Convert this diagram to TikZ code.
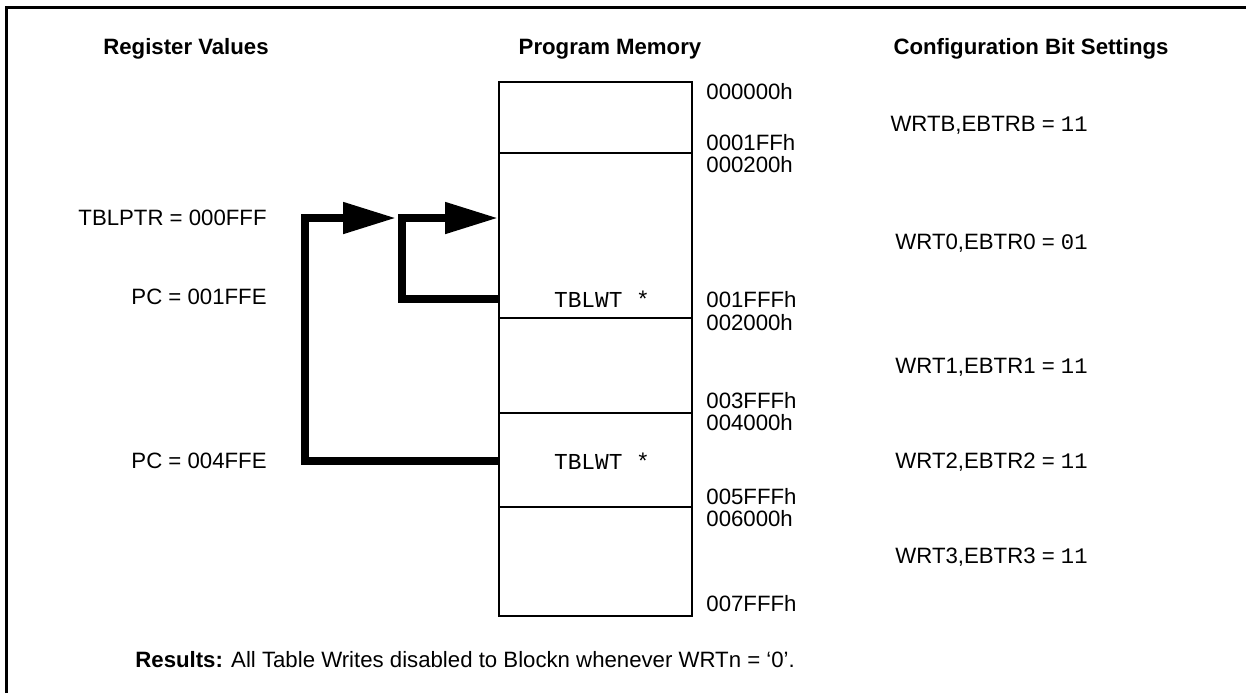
\documentclass[tikz,border=0pt]{standalone}
\usepackage{fontspec}
\setmainfont{Liberation Sans}
\newfontfamily\courfont{Liberation Mono}
\usetikzlibrary{arrows.meta}
\begin{document}
\begin{tikzpicture}[x=0.5pt,y=-0.5pt,
  every node/.style={inner sep=0pt, font=\fontsize{11.1}{13.3}\selectfont},
  hdr/.style={font=\fontsize{11.1}{13.3}\selectfont\bfseries},
  mono/.style={font=\fontsize{11.4}{13.6}\selectfont\courfont},
  addr/.style={anchor=west},
  regval/.style={anchor=east},
  cfg/.style={anchor=east},
  blk/.style={draw, line width=1pt, minimum width=96.5pt, inner sep=0pt},
  fat/.style={line width=4pt, line join=miter, -{Triangle[length=26.5pt,width=15pt]}},
  frameline/.style={line width=1.5pt}]
\useasboundingbox (0,0) rectangle (1246,693);
% frame
\draw[frameline] (6,693) -- (6,7) -- (1246,7);
% headers
\node[hdr] (h1) at (186,49) {Register Values};
\node[hdr] (h2) at (610,49) {Program Memory};
\node[hdr] (h3) at (1031,49) {Configuration Bit Settings};
% memory blocks
\node[blk, minimum height=35.5pt] (b0) at (595.5,117.5) {};
\node[blk, minimum height=82.5pt] (b1) at (595.5,235.5) {};
\node[blk, minimum height=47.5pt] (b2) at (595.5,365.5) {};
\node[blk, minimum height=47pt] (b3) at (595.5,460) {};
\node[blk, minimum height=54.5pt] (b4) at (595.5,561.5) {};
\node[mono] (tw1) at (602,299) {TBLWT *};
\node[mono] (tw2) at (602,461) {TBLWT *};
% addresses
\node[addr] (a0) at (706,92) {000000h};
\node[addr] (a1) at (706,143) {0001FFh};
\node[addr] (a2) at (706,165) {000200h};
\node[addr] (a3) at (706,300) {001FFFh};
\node[addr] (a4) at (706,323) {002000h};
\node[addr] (a5) at (706,401) {003FFFh};
\node[addr] (a6) at (706,423) {004000h};
\node[addr] (a7) at (706,497) {005FFFh};
\node[addr] (a8) at (706,519) {006000h};
\node[addr] (a9) at (706,604) {007FFFh};
% register values
\node[regval] (r1) at (267,218) {TBLPTR = 000FFF};
\node[regval] (r2) at (267,297) {PC = 001FFE};
\node[regval] (r3) at (267,461) {PC = 004FFE};
% configuration bits
\node[cfg] (c0) at (1088,125) {WRTB,EBTRB = {\courfont 11}};
\node[cfg] (c1) at (1088,243) {WRT0,EBTR0 = {\courfont 01}};
\node[cfg] (c2) at (1088,367) {WRT1,EBTR1 = {\courfont 11}};
\node[cfg] (c3) at (1088,462) {WRT2,EBTR2 = {\courfont 11}};
\node[cfg] (c4) at (1088,557) {WRT3,EBTR3 = {\courfont 11}};
% results
\node[anchor=west] (res) at (135,660) {\textbf{Results:} All Table Writes disabled to Blockn whenever WRTn = ‘0’.};
% arrows
\coordinate (o1) at (305,218);
\coordinate (o2) at (396,218);
\coordinate (i1) at (402,218);
\coordinate (i2) at (498,218);
\draw[fat] (tw2.west -| b3.west) -| (o1) -- (o2);
\draw[fat] (tw1.west -| b1.west) -| (i1) -- (i2);
\end{tikzpicture}
\end{document}
